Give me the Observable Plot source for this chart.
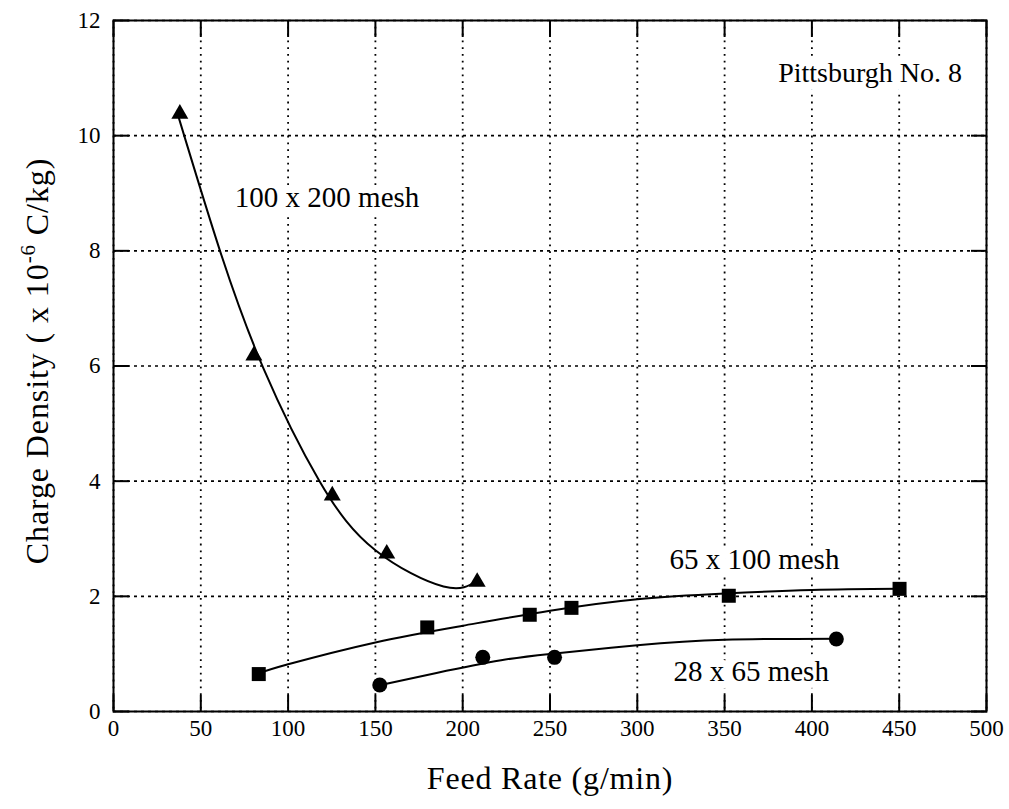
<!DOCTYPE html>
<html><head><meta charset="utf-8">
<script src="https://cdn.jsdelivr.net/npm/d3@7"></script>
<script src="https://cdn.jsdelivr.net/npm/@observablehq/plot@0.6"></script>
<style>
body{margin:0;background:#fff}
svg{font-family:"Liberation Serif","Times New Roman",serif}
</style>
</head><body><div id="chart"></div>
<script>
// Measured points
const triX = [38, 80.4, 125.3, 156.5, 208.3];
const triY = [10.38, 6.18, 3.75, 2.74, 2.25];
const sqX = [83.2, 179.7, 238.4, 262.3, 352.4, 450.2];
const sqY = [0.65, 1.46, 1.68, 1.80, 2.01, 2.13];
const cirX = [152.5, 211.5, 252.6, 414];
const cirY = [0.46, 0.94, 0.94, 1.26];
// Fitted curves as drawn in the figure
const triFitX = [37.5, 61, 86, 118, 150, 189, 208];
const triFitY = [10.3, 8.0, 5.95, 4.0, 2.8, 2.17, 2.27];
const sqFitX = [83, 100, 150, 200, 250, 300, 350, 400, 450];
const sqFitY = [0.66, 0.82, 1.20, 1.49, 1.75, 1.95, 2.05, 2.11, 2.13];
const cirFitX = [153, 185, 222, 250, 300, 350, 414];
const cirFitY = [0.46, 0.67, 0.89, 1.0, 1.15, 1.245, 1.265];
// Ticks
const xTicks = [0, 50, 100, 150, 200, 250, 300, 350, 400, 450, 500];
const yTicks = [0, 2, 4, 6, 8, 10, 12];
// Annotations
const meshText = ["100 x 200 mesh", "65 x 100 mesh", "28 x 65 mesh"];
const meshX = [69.5, 318.4, 320.7];
const meshY = [8.92, 2.64, 0.69];
const coalText = ["Pittsburgh No. 8"];
const coalX = [486];
const coalY = [11.08];
const xTitle = "Feed Rate (g/min)";

const zip = (xs, ys) => xs.map((x, i) => ({x, y: ys[i]}));
const tri = zip(triX, triY), sq = zip(sqX, sqY), cir = zip(cirX, cirY);
const triFit = zip(triFitX, triFitY), sqFit = zip(sqFitX, sqFitY), cirFit = zip(cirFitX, cirFitY);
const mesh = meshText.map((t, i) => ({t, x: meshX[i], y: meshY[i]}));
const coal = coalText.map((t, i) => ({t, x: coalX[i], y: coalY[i]}));

const blank = () => "";
const chart = Plot.plot({
  width: 1009, height: 809,
  marginLeft: 113, marginRight: 23, marginTop: 20, marginBottom: 98,
  style: {fontFamily: "Liberation Serif, Times New Roman, serif", background: "#fff", color: "#000"},
  x: {domain: [0, 500]},
  y: {domain: [0, 12]},
  marks: [
    Plot.gridX(xTicks, {stroke: "#000", strokeOpacity: 1, strokeWidth: 1.8, strokeDasharray: "1.8,5"}),
    Plot.gridY(yTicks, {stroke: "#000", strokeOpacity: 1, strokeWidth: 1.6, strokeDasharray: "3,4"}),
    Plot.text(mesh, {x: "x", y: "y", text: "t", textAnchor: "start", fontSize: 29, fill: "#000", stroke: "#fff", strokeWidth: 14}),
    Plot.text(coal, {x: "x", y: "y", text: "t", textAnchor: "end", fontSize: 28, fill: "#000", stroke: "#fff", strokeWidth: 16}),
    Plot.axisX(xTicks, {anchor: "bottom", tickSize: -16, strokeWidth: 2, tickFormat: blank, label: null}),
    Plot.axisX(xTicks, {anchor: "top", tickSize: -16, strokeWidth: 2, tickFormat: blank, label: null}),
    Plot.axisY(yTicks, {anchor: "left", tickSize: -16, strokeWidth: 2, tickFormat: blank, label: null}),
    Plot.axisY(yTicks, {anchor: "right", tickSize: -16, strokeWidth: 2, tickFormat: blank, label: null}),
    Plot.axisX(xTicks, {anchor: "bottom", tickSize: 0, tickPadding: 8, fontSize: 23, tickFormat: d3.format("d"), label: null}),
    Plot.axisY(yTicks, {anchor: "left", tickSize: 0, tickPadding: 13, fontSize: 23, tickFormat: d3.format("d"), label: null}),
    Plot.frame({stroke: "#000", strokeWidth: 2}),
    Plot.line(triFit, {x: "x", y: "y", curve: "natural", stroke: "#000", strokeWidth: 2}),
    Plot.line(sqFit, {x: "x", y: "y", curve: "natural", stroke: "#000", strokeWidth: 2}),
    Plot.line(cirFit, {x: "x", y: "y", curve: "natural", stroke: "#000", strokeWidth: 2}),
    Plot.dot(tri, {x: "x", y: "y", symbol: "triangle", r: 6.3, fill: "#000", stroke: "none"}),
    Plot.dot(sq, {x: "x", y: "y", symbol: "square", r: 7.9, fill: "#000", stroke: "none"}),
    Plot.dot(cir, {x: "x", y: "y", symbol: "circle", r: 7.5, fill: "#000", stroke: "none"}),
    Plot.text([xTitle], {frameAnchor: "bottom", dy: 77, fontSize: 32, fill: "#000"})
  ]
});
document.getElementById("chart").appendChild(chart);
d3.select(chart).selectAll("text").filter(function(){ return this.textContent === xTitle; }).style("letter-spacing", "0.8px");

// Y axis title with superscript
const svg = d3.select(chart);
const t = svg.append("text")
  .attr("transform", `translate(48,361) rotate(-90)`)
  .attr("text-anchor", "middle")
  .attr("font-size", 32)
  .attr("fill", "#000")
  .style("letter-spacing", "0.9px");
t.append("tspan").text("Charge Density ( x 10");
t.append("tspan").attr("dy", -13).attr("font-size", 21).text("-6");
t.append("tspan").attr("dy", 13).text(" C/kg)");
</script>
</body></html>
